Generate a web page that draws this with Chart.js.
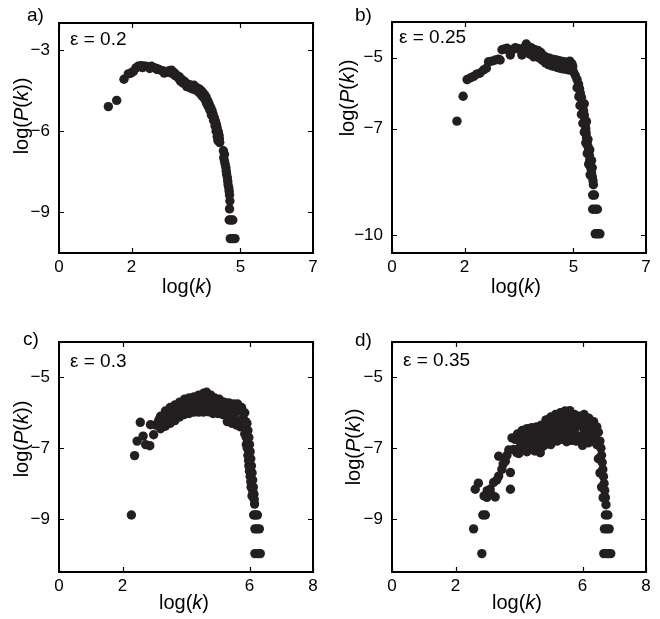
<!DOCTYPE html>
<html>
<head>
<meta charset="utf-8">
<script src="https://cdn.jsdelivr.net/npm/chart.js@4"></script>
<style>
  html,body{margin:0;padding:0;background:#fff;}
  #wrap{position:relative;width:660px;height:619px;}
  canvas{position:absolute;}
</style>
</head>
<body>
<div id="wrap">
  <canvas id="ca" width="330" height="310" style="left:0;top:0;width:330px;height:310px"></canvas>
  <canvas id="cb" width="330" height="310" style="left:330px;top:0;width:330px;height:310px"></canvas>
  <canvas id="cc" width="330" height="309" style="left:0;top:310px;width:330px;height:309px"></canvas>
  <canvas id="cd" width="330" height="309" style="left:330px;top:310px;width:330px;height:309px"></canvas>
</div>
<script>
// ---------- data: [log(k), log(P(k))] ----------
const seriesA = [
 [1.36,-5.09],[1.59,-4.86],[1.79,-4.08],[1.91,-3.88],[1.98,-3.85],[2.05,-3.79],[2.12,-3.66],[2.18,-3.6],
 [2.25,-3.58],[2.32,-3.59],[2.4,-3.6],[2.47,-3.62],[2.55,-3.6],[2.62,-3.65],[2.69,-3.68],[2.76,-3.72],
 [2.83,-3.76],[2.9,-3.78],[2.97,-3.82],[3.04,-3.76],[3.1,-3.74],[3.17,-3.83],[3.24,-3.92],[3.31,-3.98],
 [3.38,-4.08],[3.45,-4.15],[3.5,-4.22],[3.56,-4.33],[3.6,-4.28],[3.66,-4.32],[3.72,-4.3],[3.78,-4.38],
 [3.83,-4.42],[3.88,-4.45],[3.93,-4.52],[3.97,-4.58],[4.02,-4.66],[4.06,-4.76],[4.1,-4.88],[4.14,-5.0],
 [4.18,-5.12],[4.22,-5.25],[4.25,-5.38],[4.28,-5.5],[4.31,-5.62],[4.34,-5.75],[4.36,-5.88],[4.39,-6.02],
 [4.41,-6.15],[4.42,-6.28],[4.43,-6.42],[4.53,-6.72],[4.56,-6.85],[4.54,-6.98],[4.56,-7.1],[4.58,-7.22],
 [4.6,-7.35],[4.61,-7.48],[4.62,-7.6],[4.64,-7.72],[4.65,-7.85],[4.66,-7.98],[4.68,-8.1],[4.69,-8.22],
 [4.7,-8.36],[4.71,-8.58],[4.7,-8.87],[4.69,-9.28],[4.74,-9.28],[4.79,-9.28],[4.72,-9.97],[4.78,-9.97],[4.85,-9.97],
 [3.3,-4.05],[3.42,-4.22],[3.52,-4.35],[3.7,-4.45],[3.85,-4.55],[3.95,-4.7],[4.05,-4.9],[4.12,-5.1],
 [2.3,-3.65],[2.5,-3.68],[2.7,-3.72],[2.9,-3.85],[3.1,-3.85],[3.2,-3.95],[3.35,-4.15],[3.62,-4.4],
 [3.8,-4.5],[3.9,-4.62],[4.0,-4.78],[4.08,-5.0],[4.16,-5.22],[4.2,-5.4],[4.26,-5.6],[4.3,-5.8],
 [4.33,-6.0],[4.36,-6.2],[4.38,-6.35]
];
const seriesB = [
 [1.79,-6.79],[1.96,-6.09],[2.07,-5.62],[2.17,-5.57],[2.25,-5.53],[2.33,-5.47],[2.42,-5.44],[2.52,-5.35],
 [2.6,-5.3],[2.66,-5.12],[2.75,-5.1],[2.85,-5.07],[2.93,-5.05],[2.98,-5.07],[3.03,-4.78],[3.1,-4.76],
 [3.17,-4.74],[3.22,-4.8],[3.26,-4.93],[3.33,-4.78],[3.4,-4.72],[3.48,-4.75],[3.55,-4.8],[3.58,-4.93],
 [3.64,-4.72],[3.7,-4.62],
 [3.78,-4.7],[3.86,-4.74],[3.94,-4.78],[4.02,-4.8],[4.1,-4.86],[4.18,-4.95],[4.26,-5.0],[4.34,-5.02],
 [4.42,-5.05],[4.5,-5.06],[4.58,-5.08],[4.66,-5.1],[4.74,-5.12],[4.82,-5.14],[4.9,-5.1],[4.96,-5.18],
 [3.75,-4.88],[3.83,-4.92],[3.91,-4.98],[3.99,-4.97],[4.07,-5.02],[4.15,-5.08],[4.23,-5.15],[4.31,-5.2],
 [4.39,-5.23],[4.47,-5.25],[4.55,-5.28],[4.63,-5.3],[4.71,-5.32],[4.79,-5.33],[4.87,-5.35],[4.95,-5.3],
 [3.8,-4.8],[3.95,-4.88],[4.1,-4.95],[4.25,-5.08],[4.4,-5.14],[4.55,-5.18],[4.7,-5.2],[4.85,-5.25],
 [3.9,-4.84],[4.05,-4.9],[4.2,-5.02],[4.35,-5.1],[4.5,-5.15],[4.65,-5.15],[4.8,-5.18],[4.92,-5.22],[4.98,-5.25],
 [5.0,-5.4],[5.05,-5.5],[5.1,-5.62],[5.14,-5.75],[5.17,-5.88],[5.19,-6.0],[5.22,-6.12],[5.24,-6.25],
 [5.26,-6.38],[5.28,-6.5],[5.3,-6.62],[5.32,-6.75],[5.33,-6.88],[5.34,-7.0],[5.35,-7.12],[5.36,-7.25],
 [5.38,-7.38],[5.4,-7.5],[5.42,-7.62],[5.44,-7.75],[5.45,-7.88],[5.46,-8.0],[5.48,-8.12],[5.5,-8.25],
 [5.52,-8.36],[5.54,-8.47],[5.55,-8.58],
 [5.1,-5.85],[5.15,-6.1],[5.18,-6.35],[5.22,-6.6],[5.26,-6.85],[5.3,-7.1],[5.34,-7.4],[5.38,-7.7],
 [5.42,-8.0],[5.46,-8.3],[5.3,-6.3],[5.36,-6.8],[5.4,-7.3],[5.45,-7.6],[5.5,-7.9],[5.52,-8.1],
 [5.53,-8.87],[5.58,-8.87],[5.53,-9.27],[5.6,-9.27],[5.66,-9.27],
 [5.6,-9.96],[5.67,-9.96],[5.73,-9.96]
];
const seriesC = [
 [2.28,-8.89],[2.38,-7.21],[2.46,-6.8],[2.56,-6.27],[2.65,-6.66],[2.73,-6.9],[2.86,-6.93],[2.88,-6.34],
 [2.98,-6.62],[3.05,-6.35],[3.12,-6.28],
 [3.2,-6.1],[3.35,-5.95],[3.5,-5.85],[3.65,-5.78],[3.8,-5.7],[3.95,-5.62],[4.1,-5.58],[4.25,-5.55],
 [4.4,-5.5],[4.55,-5.45],[4.65,-5.42],[4.78,-5.5],[4.9,-5.58],[5.05,-5.62],[5.2,-5.7],[5.35,-5.72],
 [5.5,-5.75],[5.62,-5.75],[5.75,-5.85],[5.85,-6.0],
 [3.2,-6.45],[3.35,-6.38],[3.5,-6.3],[3.65,-6.22],[3.8,-6.12],[3.95,-6.05],[4.1,-6.02],[4.25,-5.98],
 [4.4,-5.98],[4.55,-5.98],[4.7,-5.97],[4.85,-6.02],[5.0,-6.02],[5.15,-6.05],[5.3,-6.25],[5.45,-6.3],
 [5.6,-6.35],[5.72,-6.4],[5.85,-6.42],
 [3.3,-6.2],[3.55,-6.05],[3.8,-5.92],[4.05,-5.82],[4.3,-5.75],[4.55,-5.72],[4.8,-5.75],[5.05,-5.82],
 [5.3,-5.95],[5.55,-6.0],[5.8,-6.15],
 [3.15,-6.2],[3.28,-6.1],[3.4,-6.02],[3.52,-5.95],[3.64,-5.88],[3.76,-5.8],[3.88,-5.75],[4.0,-5.7],
 [4.12,-5.66],[4.24,-5.64],[4.36,-5.6],[4.48,-5.58],[4.6,-5.55],[4.72,-5.6],[4.84,-5.65],[4.96,-5.7],
 [5.08,-5.72],[5.2,-5.78],[5.32,-5.82],[5.44,-5.85],[5.56,-5.86],[5.68,-5.88],[5.8,-6.0],
 [3.15,-6.35],[3.28,-6.28],[3.4,-6.22],[3.52,-6.15],[3.64,-6.08],[3.76,-6.02],[3.88,-5.98],[4.0,-5.9],
 [4.12,-5.88],[4.24,-5.85],[4.36,-5.85],[4.48,-5.84],[4.6,-5.85],[4.72,-5.86],[4.84,-5.88],[4.96,-5.92],
 [5.08,-5.95],[5.2,-6.05],[5.32,-6.12],[5.44,-6.15],[5.56,-6.2],[5.68,-6.25],[5.8,-6.3],
 [5.92,-6.3],[5.95,-6.5],[5.98,-6.7],[6.0,-6.9],[6.02,-7.1],[6.04,-7.3],[6.06,-7.5],[6.08,-7.7],
 [6.1,-7.9],[6.12,-8.1],[6.14,-8.3],[6.15,-8.45],[6.16,-8.58],
 [5.85,-6.6],[5.9,-6.9],[5.95,-7.2],[5.98,-7.5],[6.02,-7.8],[6.05,-8.1],[6.08,-8.35],
 [5.88,-6.25],[5.9,-6.7],[5.93,-7.0],[5.97,-7.35],[6.0,-7.65],[6.04,-7.95],[6.1,-8.2],
 [6.13,-8.89],[6.19,-8.89],[6.25,-8.89],[6.17,-9.28],[6.24,-9.28],[6.31,-9.28],[6.17,-9.98],[6.26,-9.98],[6.34,-9.98]
];
const seriesD = [
 [2.57,-9.28],[2.83,-9.98],[2.86,-8.89],[2.94,-8.89],[2.62,-8.16],[2.72,-7.99],[2.99,-8.39],[3.09,-8.16],
 [3.25,-8.38],[3.2,-7.97],[3.36,-7.79],[3.46,-7.6],[3.36,-7.23],[3.57,-7.37],[3.73,-7.69],[3.73,-8.16],
 [3.78,-6.71],[3.83,-7.04],[3.93,-7.13],[3.12,-8.3],
 [3.5,-7.45],[3.62,-7.2],[3.68,-7.05],[3.88,-6.75],[3.3,-7.9],[3.0,-8.2],[2.9,-8.35],
 [3.95,-6.6],[4.1,-6.5],[4.25,-6.45],[4.4,-6.42],[4.55,-6.4],[4.7,-6.35],[4.85,-6.2],[5.0,-6.12],
 [5.15,-6.05],[5.3,-6.0],[5.45,-5.95],[5.6,-5.94],[5.75,-6.05],[5.9,-6.1],[6.05,-6.05],[6.2,-6.15],[6.35,-6.25],
 [4.0,-7.15],[4.15,-7.05],[4.3,-7.0],[4.45,-7.0],[4.6,-7.05],[4.75,-6.95],[4.9,-6.85],[5.05,-6.8],
 [5.2,-6.8],[5.35,-6.75],[5.5,-6.72],[5.65,-6.78],[5.8,-6.8],[5.95,-6.8],[6.1,-6.8],[6.25,-6.75],[6.4,-6.7],
 [4.05,-6.85],[4.3,-6.75],[4.55,-6.7],[4.8,-6.6],[5.05,-6.45],[5.3,-6.4],[5.55,-6.35],[5.8,-6.4],
 [6.05,-6.45],[6.3,-6.45],
 [4.2,-6.9],[4.45,-6.55],[4.7,-6.55],[4.95,-6.55],[5.2,-6.25],[5.45,-6.2],[5.7,-6.2],[5.95,-6.25],[6.2,-6.35],
 [3.98,-6.75],[4.12,-6.65],[4.26,-6.6],[4.4,-6.57],[4.54,-6.55],[4.68,-6.5],[4.82,-6.38],[4.96,-6.28],
 [5.1,-6.2],[5.24,-6.15],[5.38,-6.1],[5.52,-6.08],[5.66,-6.12],[5.8,-6.2],[5.94,-6.2],[6.08,-6.2],[6.22,-6.28],[6.36,-6.38],
 [4.02,-7.0],[4.16,-6.92],[4.3,-6.88],[4.44,-6.85],[4.58,-6.88],[4.72,-6.8],[4.86,-6.72],[5.0,-6.68],
 [5.14,-6.65],[5.28,-6.6],[5.42,-6.58],[5.56,-6.58],[5.7,-6.62],[5.84,-6.65],[5.98,-6.65],[6.12,-6.65],[6.26,-6.6],[6.4,-6.58],
 [4.1,-6.78],[4.36,-6.72],[4.62,-6.65],[4.88,-6.5],[5.12,-6.42],[5.38,-6.35],[5.62,-6.3],[5.88,-6.35],[6.12,-6.4],[6.38,-6.5],
 [4.25,-7.1],[4.5,-7.08],[4.67,-7.13],[4.82,-6.9],[5.0,-6.9],[5.25,-6.7],[5.5,-6.82],[5.75,-6.7],
 [6.0,-6.92],[6.18,-6.85],[6.32,-6.8],[5.1,-6.55],[5.65,-6.45],[6.0,-6.35],[6.45,-6.4],
 [6.5,-6.55],[6.55,-6.8],[6.58,-7.0],[6.6,-7.2],[6.62,-7.4],[6.64,-7.6],[6.66,-7.8],[6.68,-8.0],
 [6.7,-8.2],[6.72,-8.4],[6.74,-8.6],
 [6.45,-6.9],[6.5,-7.3],[6.55,-7.7],[6.6,-8.1],[6.65,-8.4],
 [6.72,-8.89],[6.8,-8.89],[6.69,-9.28],[6.77,-9.28],[6.84,-9.28],[6.67,-9.98],[6.75,-9.98],[6.82,-9.98],[6.89,-9.98]
];

const xTicksAB = [0,2,5,7];
const xTicksCD = [0,2,6,8];
const yTicksA = [-3,-6,-9];
const yTicksB = [-5,-7,-10];
const yTicksCD = [-5,-7,-9];
const panelLetters = ['a)','b)','c)','d)'];
const epsilonLabels = ['\u03b5 = 0.2','\u03b5 = 0.25','\u03b5 = 0.3','\u03b5 = 0.35'];

// ---------- drawing ----------
const FONT = '"Liberation Sans", Arial, Helvetica, sans-serif';
const INK = '#231f20';

function fmt(v){ return v < 0 ? '\u2212' + Math.abs(v) : String(v); }

function drawMixed(ctx, parts, cx, cy, size){
  let total = 0;
  const widths = parts.map(([t, it]) => {
    ctx.font = (it ? 'italic ' : '') + size + 'px ' + FONT;
    const w = ctx.measureText(t).width; total += w; return w;
  });
  let x = cx - total/2;
  ctx.textAlign = 'left'; ctx.textBaseline = 'middle';
  parts.forEach(([t, it], i) => {
    ctx.font = (it ? 'italic ' : '') + size + 'px ' + FONT;
    ctx.fillText(t, x, cy); x += widths[i];
  });
}

const decorPlugin = {
  id: 'decor',
  afterDatasetsDraw(chart, args, o) {
    const {ctx, chartArea:{left,right,top,bottom}, scales:{x,y}} = chart;
    ctx.save();
    ctx.strokeStyle = '#000';
    ctx.lineWidth = 1.2;
    const tl = 5;
    ctx.beginPath();
    x.ticks.forEach(t => {
      const px = Math.round(x.getPixelForValue(t.value)) + 0.5;
      ctx.moveTo(px, bottom); ctx.lineTo(px, bottom - tl);
      ctx.moveTo(px, top); ctx.lineTo(px, top + tl);
    });
    y.ticks.forEach(t => {
      const py = Math.round(y.getPixelForValue(t.value)) + 0.5;
      ctx.moveTo(left, py); ctx.lineTo(left + tl, py);
      ctx.moveTo(right, py); ctx.lineTo(right - tl, py);
    });
    ctx.stroke();
    ctx.lineWidth = 2;
    ctx.strokeRect(left, top, right - left, bottom - top);

    ctx.fillStyle = '#000';
    drawMixed(ctx, [['log(',false],['k',true],[')',false]], o.xt[0], o.xt[1], 20);
    ctx.save();
    ctx.translate(o.yt[0], o.yt[1]);
    ctx.rotate(-Math.PI/2);
    drawMixed(ctx, [['log(',false],['P',true],['(',false],['k',true],['))',false]], 0, 0, 20);
    ctx.restore();
    ctx.font = '19px ' + FONT;
    ctx.textAlign = 'left'; ctx.textBaseline = 'middle';
    ctx.fillText(o.letter, o.lp[0], o.lp[1]);
    ctx.fillText(o.eps, o.ep[0], o.ep[1]);
    ctx.restore();
  }
};

function makePanel(id, series, xMax, yMin, yMax, xTicks, yTicks, lay, deco){
  new Chart(document.getElementById(id), {
    type: 'scatter',
    data: { datasets: [{
      data: series.map(p => ({x: p[0], y: p[1]})),
      pointRadius: 4.7, pointHoverRadius: 4.7,
      backgroundColor: INK, borderWidth: 0
    }]},
    options: {
      responsive: false, animation: false, events: [],
      layout: { autoPadding: false, padding: { top: lay.top, right: lay.right, left: 0, bottom: 0 } },
      plugins: { legend: {display:false}, tooltip: {enabled:false}, decor: deco },
      scales: {
        x: {
          type: 'linear', min: 0, max: xMax, position: 'bottom',
          afterBuildTicks: s => { s.ticks = xTicks.map(v => ({value: v})); },
          afterFit: s => { s.height = lay.xh; },
          grid: { display: false, drawTicks: false, tickLength: 0 },
          border: { display: false },
          ticks: { color: '#000', font: {family: FONT, size: 17}, padding: 4,
                   maxRotation: 0, autoSkip: false, callback: v => fmt(v) }
        },
        y: {
          type: 'linear', min: yMin, max: yMax, position: 'left',
          afterBuildTicks: s => { s.ticks = yTicks.map(v => ({value: v})); },
          afterFit: s => { s.width = lay.yw; },
          grid: { display: false, drawTicks: false, tickLength: 0 },
          border: { display: false },
          ticks: { color: '#000', font: {family: FONT, size: 17}, padding: 9,
                   autoSkip: false, callback: v => fmt(v) }
        }
      }
    },
    plugins: [decorPlugin]
  });
}

makePanel('ca', seriesA, 7, -10.5, -2, xTicksAB, yTicksA,
  {top: 23, right: 17, xh: 57, yw: 59},
  {xt: [187, 287], yt: [22, 116], letter: panelLetters[0], lp: [27, 16], eps: epsilonLabels[0], ep: [70, 40]});
makePanel('cb', seriesB, 7, -10.5, -4, xTicksAB, yTicksB,
  {top: 22, right: 14, xh: 57, yw: 62},
  {xt: [186, 287], yt: [18, 98], letter: panelLetters[1], lp: [25, 16], eps: epsilonLabels[1], ep: [69, 38]});
makePanel('cc', seriesC, 8, -10.5, -4, xTicksCD, yTicksCD,
  {top: 32, right: 17, xh: 47, yw: 59},
  {xt: [184, 293], yt: [22, 129], letter: panelLetters[2], lp: [23, 30], eps: epsilonLabels[2], ep: [70, 52]});
makePanel('cd', seriesD, 8, -10.5, -4, xTicksCD, yTicksCD,
  {top: 32, right: 14, xh: 47, yw: 62},
  {xt: [187, 293], yt: [24, 137], letter: panelLetters[3], lp: [25, 31], eps: epsilonLabels[3], ep: [73, 51]});
</script>
</body>
</html>
